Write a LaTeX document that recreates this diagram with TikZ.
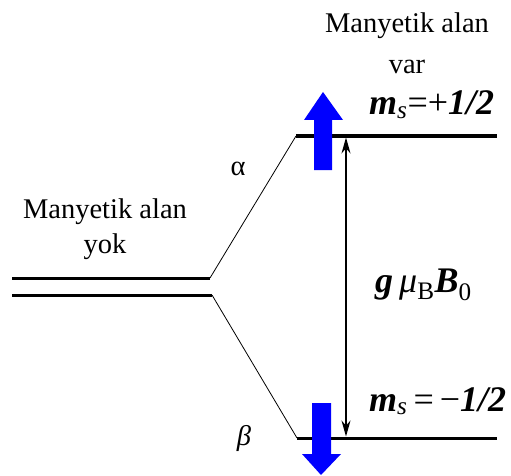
\documentclass[tikz,border=0pt]{standalone}
\usepackage{fontspec}
\setmainfont{Liberation Serif}
\usetikzlibrary{arrows.meta}

\begin{document}
\begin{tikzpicture}[x=1pt,y=-1pt,>={Stealth[length=16pt,width=9pt]},
  every node/.style={inner sep=0pt,font=\fontsize{28.5}{40}\selectfont},
  level/.style={line width=3pt},
  branch/.style={line width=0.8pt},
  spin/.style={fill=blue,draw=none},
  big/.style={font=\fontsize{36}{40}\selectfont}]
\useasboundingbox (0,0) rectangle (511,476);
% levels
\coordinate (z1a) at (12,278);  \coordinate (z1b) at (210,278);
\coordinate (z2a) at (12,295);  \coordinate (z2b) at (212,295);
\coordinate (upA) at (296,136); \coordinate (upB) at (497,136);
\coordinate (dnA) at (297,438); \coordinate (dnB) at (497,438);
\draw[level] (z1a) -- (z1b);
\draw[level] (z2a) -- (z2b);
\draw[level] (upA) -- (upB);
\draw[level] (dnA) -- (dnB);
\draw[branch] (z1b) -- (upA);
\draw[branch] (z2b) -- (dnA);
% splitting
\coordinate (gapT) at (346,137.5);
\coordinate (gapB) at (346,436.5);
\draw[<->,line width=1.2pt] (gapT) -- (gapB);
% spins
\fill[spin] (314,170) -- (314,120) -- (304,120) -- (323,92) -- (343,120) -- (332,120) -- (332,170) -- cycle;
\fill[spin] (312,403) -- (312,454) -- (302,454) -- (321,475) -- (341,454) -- (331,454) -- (331,403) -- cycle;
% labels
\node[anchor=north,align=center] (on) at (407,13) {Manyetik alan\\[1pt]var};
\node[anchor=north,align=center,font=\fontsize{28.5}{35}\selectfont] (off) at (105,199) {Manyetik alan\\yok};
\node[anchor=base] (alpha) at (238,175) {α};
\node[anchor=base] (beta) at (244,445) {\itshape β};
\node[big,anchor=base west] (msup) at (369,115) {\textbf{\textit{m}}\textsubscript{\textit{s}}=+\textbf{\textit{1/2}}};
\node[big,anchor=base west] (msdn) at (369,411) {\textbf{\textit{m}}\textsubscript{\textit{s}}\,=\,−\textbf{\textit{1/2}}};
\node[big,anchor=base west] (gap) at (375,292) {\textbf{\textit{g}}\,\textit{μ}\textsubscript{B}\textbf{\textit{B}}\textsubscript{0}};
\end{tikzpicture}
\end{document}
